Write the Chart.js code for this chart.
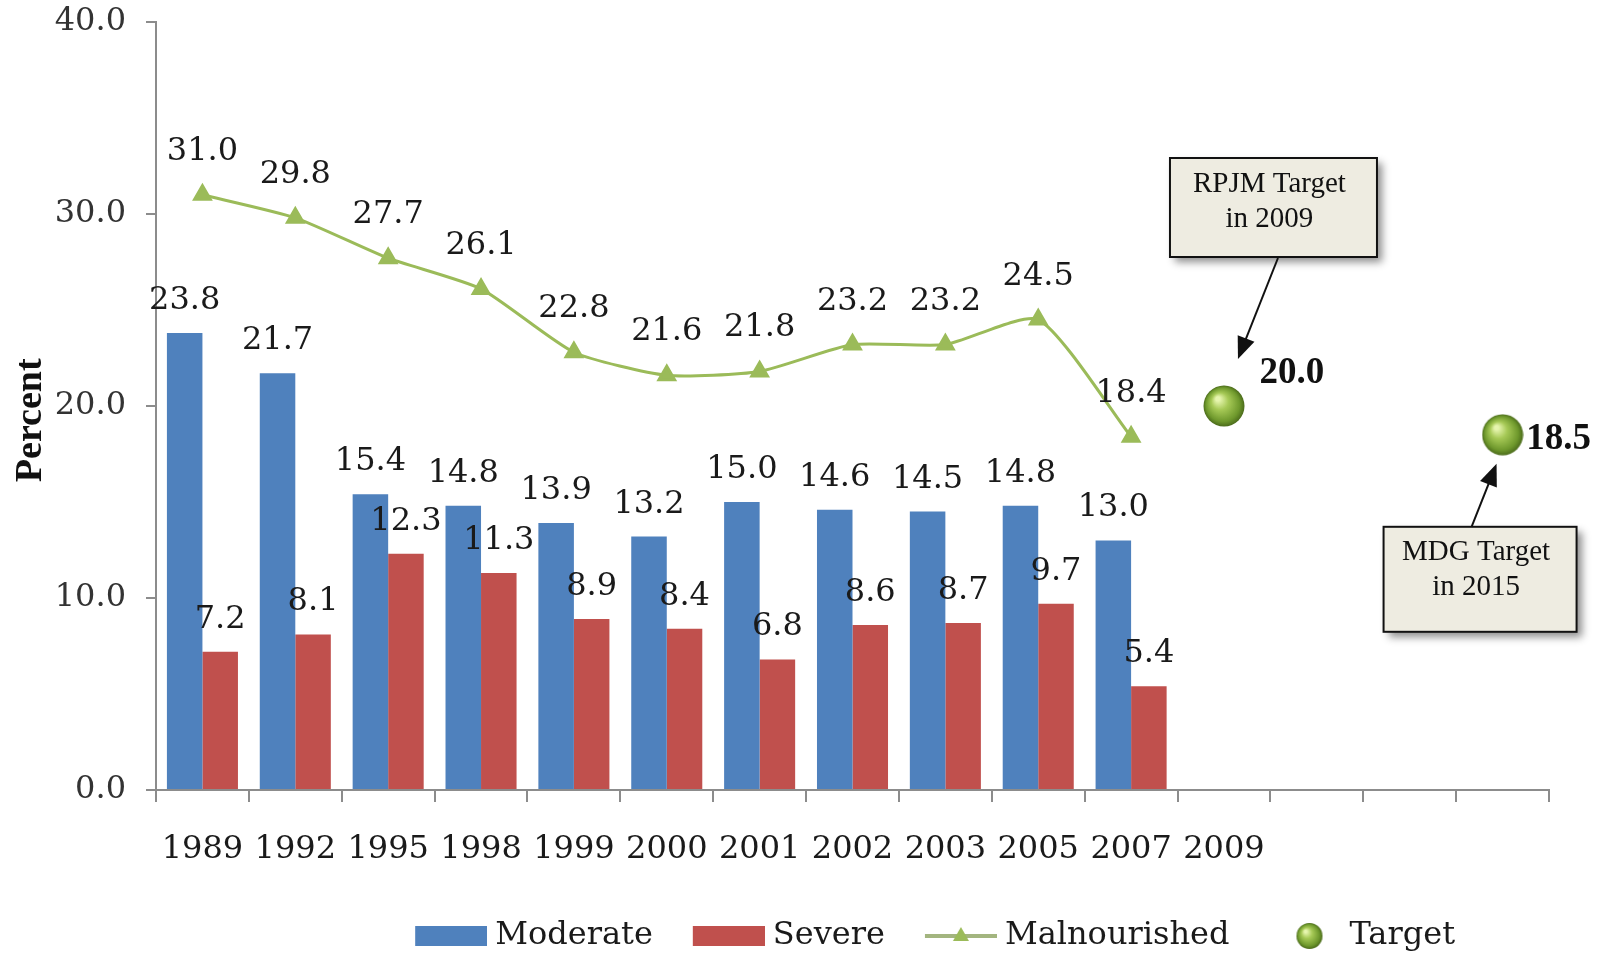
<!DOCTYPE html>
<html>
<head>
<meta charset="utf-8">
<script src="https://cdn.jsdelivr.net/npm/chart.js@4/dist/chart.umd.min.js"></script>
<style>
  html, body { margin: 0; padding: 0; background: #fff; }
</style>
</head>
<body>
<canvas id="myChart" width="1609" height="954"></canvas>
<script>
// chart data
var years = ['1989', '1992', '1995', '1998', '1999', '2000', '2001', '2002', '2003', '2005', '2007', '2009', '', '', ''];
var moderate = [23.8, 21.7, 15.4, 14.8, 13.9, 13.2, 15.0, 14.6, 14.5, 14.8, 13.0, null, null, null, null];
var severe = [7.2, 8.1, 12.3, 11.3, 8.9, 8.4, 6.8, 8.6, 8.7, 9.7, 5.4, null, null, null, null];
var malnourished = [31.0, 29.8, 27.7, 26.1, 22.8, 21.6, 21.8, 23.2, 23.2, 24.5, 18.4, null, null, null, null];
var target = [null, null, null, null, null, null, null, null, null, null, null, 20.0, null, null, 18.5];
var targetNotes = [['RPJM Target', 'in 2009'], ['MDG Target', 'in 2015']];
var targetIndex = [11, 14];

// placement of the callouts, relative to each target point
var noteLayout = [
    { box: [-54, -248, 207, 99], from: [54, -148], to: [14, -47], label: [68, -33] },
    { box: [-119, 92, 193, 105], from: [-31, 92], to: [-6, 29], label: [56, 5] }
];

var BLUE = '#4f81bd', RED = '#c0504d', GREEN = '#9bbb59';
var SERIF = "'DejaVu Serif'";
var ICON_W = 99;

function drawSphere(g, cx, cy, r) {
    var grad = g.createRadialGradient(cx - r * 0.3, cy - r * 0.35, r * 0.1, cx, cy, r);
    grad.addColorStop(0, '#e6f5ae');
    grad.addColorStop(0.35, '#a6c956');
    grad.addColorStop(0.8, '#6e982c');
    grad.addColorStop(1, '#4b6b1b');
    g.fillStyle = grad;
    g.beginPath();
    g.arc(cx, cy, r, 0, Math.PI * 2);
    g.fill();
}

function makeSphere(d) {
    var c = document.createElement('canvas');
    c.width = d; c.height = d;
    drawSphere(c.getContext('2d'), d / 2, d / 2, d / 2 - 0.5);
    return c;
}

// legend icons, the visible part sits on the right, just before the text
function makeIcon(kind) {
    var w = ICON_W + 16;
    var c = document.createElement('canvas');
    c.width = w; c.height = 32;
    var g = c.getContext('2d');
    var x0 = w - 72;
    if (kind === 'bar-blue' || kind === 'bar-red') {
        g.fillStyle = kind === 'bar-blue' ? BLUE : RED;
        g.fillRect(x0, 6, 72, 20);
    } else if (kind === 'line') {
        g.strokeStyle = '#a3b57f';
        g.lineWidth = 4;
        g.beginPath(); g.moveTo(x0, 16); g.lineTo(w, 16); g.stroke();
        g.fillStyle = GREEN;
        g.beginPath(); g.moveTo(x0 + 36, 7); g.lineTo(x0 + 44, 21); g.lineTo(x0 + 28, 21); g.closePath(); g.fill();
    } else if (kind === 'sphere') {
        drawSphere(g, x0 + 40, 16, 13);
    }
    return c;
}

var legendIcons = [makeIcon('bar-blue'), makeIcon('bar-red'), makeIcon('line'), makeIcon('sphere')];
var blankIcon = makeIcon('blank');
var sphere = makeSphere(42);

var valueLabels = {
    id: 'valueLabels',
    afterDatasetsDraw: function(chart) {
        var ctx = chart.ctx;
        ctx.save();
        ctx.fillStyle = '#1a1a1a';
        ctx.textAlign = 'center';
        ctx.textBaseline = 'alphabetic';
        ctx.font = '32px ' + SERIF;
        [0, 1, 2].forEach(function(di) {
            var meta = chart.getDatasetMeta(di);
            var data = chart.data.datasets[di].data;
            var gap = di === 2 ? 35 : 24;
            meta.data.forEach(function(el, i) {
                if (data[i] == null) return;
                ctx.fillText(data[i].toFixed(1), el.x, el.y - gap);
            });
        });
        ctx.restore();
    }
};

function arrow(ctx, x1, y1, x2, y2) {
    var a = Math.atan2(y2 - y1, x2 - x1), L = 22, w = 9;
    var c = Math.cos(a), s = Math.sin(a);
    ctx.beginPath();
    ctx.moveTo(x1, y1);
    ctx.lineTo(x2 - L * 0.8 * c, y2 - L * 0.8 * s);
    ctx.stroke();
    ctx.beginPath();
    ctx.moveTo(x2, y2);
    ctx.lineTo(x2 - L * c + w * s, y2 - L * s - w * c);
    ctx.lineTo(x2 - L * c - w * s, y2 - L * s + w * c);
    ctx.closePath();
    ctx.fill();
}

var callouts = {
    id: 'callouts',
    afterDraw: function(chart) {
        var ctx = chart.ctx;
        var meta = chart.getDatasetMeta(3);
        targetIndex.forEach(function(idx, n) {
            var p = meta.data[idx];
            var lay = noteLayout[n];
            var bx = p.x + lay.box[0], by = p.y + lay.box[1], bw = lay.box[2], bh = lay.box[3];
            ctx.save();
            ctx.shadowColor = 'rgba(0,0,0,0.45)';
            ctx.shadowBlur = 8;
            ctx.shadowOffsetX = 5;
            ctx.shadowOffsetY = 5;
            ctx.fillStyle = '#eeece1';
            ctx.fillRect(bx, by, bw, bh);
            ctx.restore();
            ctx.save();
            ctx.strokeStyle = '#111';
            ctx.lineWidth = 2;
            ctx.strokeRect(bx, by, bw, bh);
            ctx.fillStyle = '#111';
            ctx.font = "29px 'Liberation Serif'";
            ctx.textAlign = 'center';
            ctx.textBaseline = 'middle';
            ctx.fillText(targetNotes[n][0], bx + bw / 2 - 4, by + 26);
            ctx.fillText(targetNotes[n][1], bx + bw / 2 - 4, by + 61);
            arrow(ctx, p.x + lay.from[0], p.y + lay.from[1], p.x + lay.to[0], p.y + lay.to[1]);
            ctx.font = "bold 37px 'Liberation Serif'";
            ctx.fillText(chart.data.datasets[3].data[idx].toFixed(1), p.x + lay.label[0], p.y + lay.label[1]);
            ctx.restore();
        });
    }
};

var ctx = document.getElementById('myChart').getContext('2d');
var chart = new Chart(ctx, {
    type: 'bar',
    data: {
        labels: years,
        datasets: [{
            label: 'Moderate',
            data: moderate,
            backgroundColor: BLUE,
            order: 2
        }, {
            label: 'Severe',
            data: severe,
            backgroundColor: RED,
            order: 2
        }, {
            type: 'line',
            label: 'Malnourished',
            data: malnourished,
            borderColor: GREEN,
            borderWidth: 3,
            tension: 0.2,
            pointStyle: 'triangle',
            pointRadius: 9,
            pointBackgroundColor: GREEN,
            pointBorderColor: GREEN,
            order: 1
        }, {
            type: 'line',
            label: 'Target',
            data: target,
            showLine: false,
            pointStyle: sphere,
            order: 0
        }]
    },
    options: {
        responsive: false,
        animation: false,
        datasets: {
            bar: { categoryPercentage: 0.765, barPercentage: 1.0 }
        },
        layout: { padding: { top: 22, right: 60, left: 0, bottom: -8 } },
        plugins: {
            tooltip: { enabled: false },
            legend: {
                position: 'bottom',
                fullSize: false,
                labels: {
                    usePointStyle: true,
                    pointStyleWidth: ICON_W,
                    padding: 5,
                    color: '#1a1a1a',
                    font: { family: SERIF, size: 32 },
                    generateLabels: function(chart) {
                        var items = Chart.defaults.plugins.legend.labels.generateLabels(chart);
                        items.sort(function(a, b) { return a.datasetIndex - b.datasetIndex; });
                        items.forEach(function(it) { it.pointStyle = legendIcons[it.datasetIndex]; });
                        items.unshift({ text: ' ', pointStyle: blankIcon, datasetIndex: -1, hidden: false,
                            fillStyle: 'rgba(0,0,0,0)', strokeStyle: 'rgba(0,0,0,0)', lineWidth: 0 });
                        return items;
                    }
                }
            }
        },
        scales: {
            x: {
                afterFit: function(scale) { scale.height = 125; },
                grid: { drawOnChartArea: false, drawTicks: true, tickLength: 12, color: '#8c8c8c', lineWidth: 2, offset: true },
                border: { color: '#8c8c8c', width: 2 },
                ticks: {
                    autoSkip: false,
                    maxRotation: 0,
                    padding: 28,
                    color: '#1a1a1a',
                    font: { family: SERIF, size: 32 }
                }
            },
            y: {
                min: 0,
                max: 40,
                afterFit: function(scale) {
                    scale.width = 156;
                    scale.paddingTop = 0;
                    scale.paddingBottom = 0;
                },
                grid: { drawOnChartArea: false, drawTicks: true, tickLength: 10, color: '#8c8c8c', lineWidth: 2 },
                border: { color: '#8c8c8c', width: 2 },
                ticks: {
                    stepSize: 10,
                    padding: 20,
                    color: '#333',
                    font: { family: SERIF, size: 32 },
                    callback: function(v) { return v.toFixed(1); }
                },
                title: {
                    display: true,
                    text: 'Percent   ',
                    color: '#111',
                    padding: { top: 8, bottom: 0 },
                    font: { family: "'Liberation Serif'", size: 38, weight: 'bold' }
                }
            }
        }
    },
    plugins: [valueLabels, callouts]
});
</script>
</body>
</html>
